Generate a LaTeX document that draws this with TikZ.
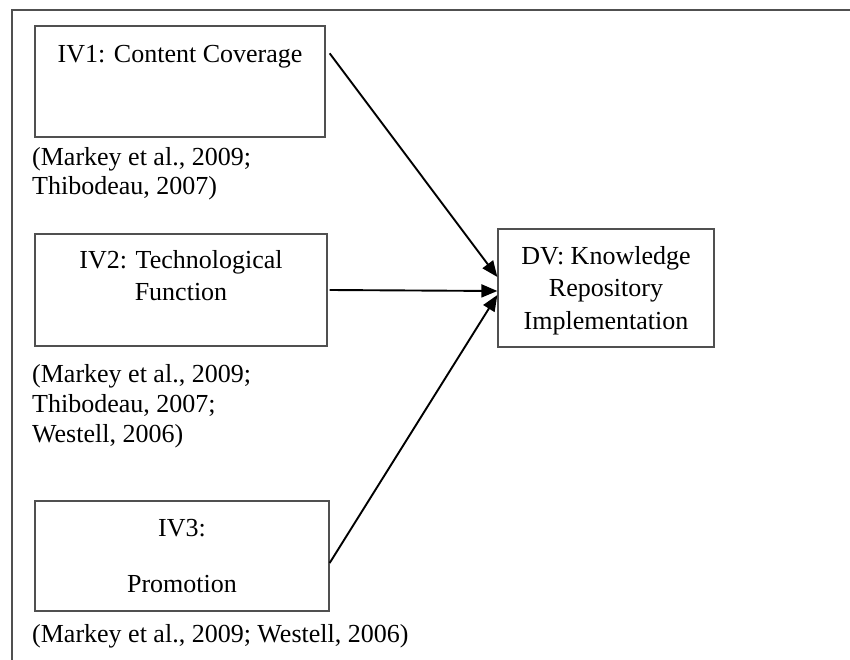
\documentclass[tikz,border=0pt]{standalone}
\usepackage{fontspec}
\setmainfont{Liberation Serif}
\usepackage{tikz}
\usepackage{xcolor}
\usetikzlibrary{positioning,arrows.meta}

\definecolor{boxgray}{HTML}{505050}

\tikzset{
  varbox/.style={rectangle, draw=boxgray, line width=1.3pt, inner sep=0pt},
  txt/.style={anchor=base, inner sep=0pt, font=\fontsize{26}{30}\selectfont},
  cite/.style={anchor=base west, inner sep=0pt, font=\fontsize{26}{30}\selectfont},
  link/.style={line width=1.9pt, -{Triangle[length=16pt,width=13pt]}}
}

\begin{document}
\begin{tikzpicture}[x=1pt, y=-1pt]
                \useasboundingbox (0,0) rectangle (850,660);
                % Frame
                \draw[boxgray, line width=1.3pt] (12,660) -- (12,10) -- (850,10);

                % Boxes
                \node[varbox, minimum width=290pt, minimum height=111pt] (iv1) at (180, 81.5) {}; % Content coverage
                \node[varbox, minimum width=292pt, minimum height=112pt] (iv2) at (181, 290) {};  % Technological function
                \node[varbox, minimum width=294pt, minimum height=110pt] (iv3) at (182, 556) {};  % Promotion
                \node[varbox, minimum width=216pt, minimum height=118pt] (dv) at (606, 288) {};   % Dependent variable

                % Box texts
                \node[txt] (iv1t) at (180, 63) {IV1: Content Coverage};
                \node[txt] (iv2t) at (181, 268) {IV2: Technological};
                \node[txt] (iv2u) at (181, 300) {Function};
                \node[txt] (iv3t) at (182, 536) {IV3:};
                \node[txt] (iv3u) at (182, 592) {Promotion};
                \node[txt] (dvt) at (606, 264) {DV: Knowledge};
                \node[txt] (dvu) at (606, 296) {Repository};
                \node[txt] (dvv) at (606, 329) {Implementation};

                % Sources
                \node[cite] (c1a) at (32, 166) {(Markey et al., 2009;};
                \node[cite] (c1b) at (32, 195) {Thibodeau, 2007)};
                \node[cite] (c2a) at (32, 382) {(Markey et al., 2009;};
                \node[cite] (c2b) at (32, 412) {Thibodeau, 2007;};
                \node[cite] (c2c) at (32, 442) {Westell, 2006)};
                \node[cite] (c3a) at (32, 642) {(Markey et al., 2009; Westell, 2006)};

                % Arrows
                \draw[link] ([xshift=4pt, yshift=-28pt]iv1.north east) -- ([yshift=11pt]dv.west);
                \draw[link] ([xshift=2pt]iv2.east) -- ([yshift=-3pt]dv.west);
                \draw[link] ([yshift=-7pt]iv3.east) -- ([yshift=-7pt]dv.west);
            \end{tikzpicture}
\end{document}
